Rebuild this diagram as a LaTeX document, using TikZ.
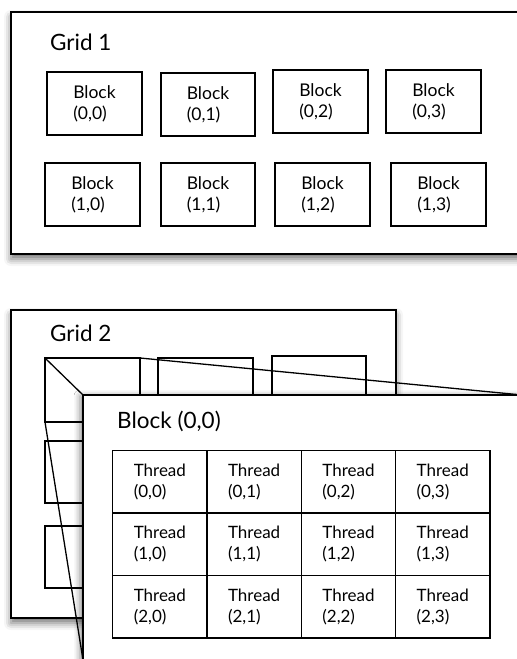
\documentclass[tikz,border=0pt]{standalone}
\usepackage{fontspec}
\setmainfont{Lato}
\usetikzlibrary{shadows.blur}
\begin{document}
\begin{tikzpicture}[x=1pt,y=-1pt,
  frame/.style={draw=black, line width=1.6pt, fill=white, inner sep=0pt, outer sep=0pt, anchor=north west,
    blur shadow={shadow xshift=0pt, shadow yshift=-5pt, shadow blur radius=7pt, shadow opacity=55}},
  panelbox/.style={draw=black, line width=1.5pt, fill=white, inner sep=0pt, outer sep=0pt, anchor=north west,
    blur shadow={shadow xshift=-3pt, shadow yshift=-1pt, shadow blur radius=6pt, shadow opacity=45}},
  blk/.style={draw=black, line width=1.4pt, fill=white, inner sep=0pt, outer sep=0pt, anchor=north west,
    minimum width=95pt, minimum height=63pt, align=left, font=\fontsize{17.5}{21}\selectfont},
  ghost/.style={draw=black, line width=1.3pt, inner sep=0pt, outer sep=0pt, anchor=north west,
    minimum width=95pt, minimum height=63pt},
  cell/.style={draw=black, line width=1.5pt, inner sep=0pt, outer sep=0pt, anchor=north west,
    minimum width=94.3pt, minimum height=62.4pt, align=left, font=\fontsize{17}{21}\selectfont},
  title/.style={anchor=west, inner sep=0pt, font=\fontsize{22.5}{26}\selectfont},
  persp/.style={draw=black, line width=1.3pt}
]
\useasboundingbox (0,0) rectangle (517,659);
\clip (0,0) rectangle (517,659);

% Grid 1
\node[frame, minimum width=520pt, minimum height=242pt] (grid1) at (11,12) {};
\node[title] (grid1title) at (50,42) {Grid 1};
\node[blk] (b00) at (47,72)  {Block\\(0,0)};
\node[blk, minimum width=94pt] (b01) at (161,73) {Block\\(0,1)};
\node[blk] (b02) at (273,70) {Block\\(0,2)};
\node[blk] (b03) at (386,70) {Block\\(0,3)};
\node[blk] (b10) at (45,163) {Block\\(1,0)};
\node[blk, minimum width=94pt] (b11) at (161,163) {Block\\(1,1)};
\node[blk] (b12) at (275,163) {Block\\(1,2)};
\node[blk] (b13) at (391,163) {Block\\(1,3)};

% Grid 2
\node[frame, minimum width=385pt, minimum height=308pt] (grid2) at (11,310) {};
\node[title] (grid2title) at (50,333) {Grid 2};
\node[ghost, minimum height=64pt] (g00) at (45,358) {};
\node[ghost] (g01) at (158,358) {};
\node[ghost, minimum width=94pt] (g02) at (272,356) {};
\node[ghost, minimum height=62pt] (g10) at (45,441) {};
\node[ghost, minimum height=62pt] (g20) at (45,526) {};

% Block (0,0) panel
\coordinate (pnw) at (83,395);
\coordinate (pne) at (522,395);
\coordinate (psw) at (83,660);
\draw[persp] (g00.north west) -- (pnw);
\draw[persp] (g00.north east) -- (pne);
\draw[persp] (g00.south west) -- (psw);
\node[panelbox, minimum width=439pt, minimum height=265pt] (panel) at (pnw) {};
\node[title] (paneltitle) at (117,421) {Block (0,0)};
\foreach \r in {0,1,2}{
  \foreach \c in {0,1,2,3}{
    \node[cell] (t\r\c) at ({112.7+94.3*\c},{450.7+62.4*\r}) {Thread\\(\r,\c)};
  }
}
\end{tikzpicture}
\end{document}
